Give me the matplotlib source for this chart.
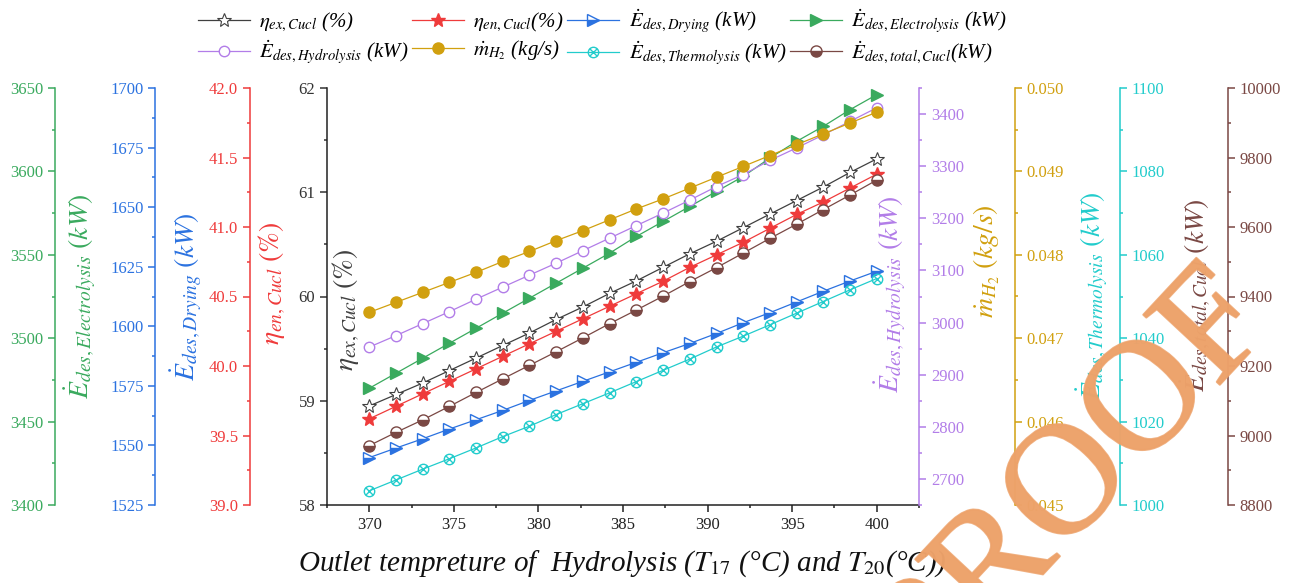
import numpy as np
import matplotlib
matplotlib.use('Agg')
import matplotlib.pyplot as plt
import matplotlib.patheffects as pe
from matplotlib.ticker import MultipleLocator, FormatStrFormatter
from matplotlib.path import Path

plt.rcParams['font.family'] = 'Liberation Serif'
plt.rcParams['mathtext.fontset'] = 'stix'

# outlet temperature of hydrolysis (T17 / T20), deg C
temp = [370.0, 371.58, 373.16, 374.74, 376.32, 377.89, 379.47, 381.05, 382.63, 384.21,
        385.79, 387.37, 388.95, 390.53, 392.11, 393.68, 395.26, 396.84, 398.42, 400.0]

eta_ex = [58.95, 59.06, 59.17, 59.29, 59.41, 59.53, 59.65, 59.78, 59.90, 60.03,
          60.15, 60.28, 60.41, 60.53, 60.66, 60.79, 60.92, 61.05, 61.19, 61.32]
eta_en = [39.62, 39.71, 39.80, 39.89, 39.98, 40.07, 40.16, 40.25, 40.34, 40.43,
          40.52, 40.61, 40.71, 40.80, 40.89, 40.99, 41.09, 41.18, 41.28, 41.38]
ed_drying = [1544.9, 1548.9, 1552.8, 1556.9, 1560.8, 1564.7, 1568.9, 1572.9, 1576.9, 1580.9,
             1584.9, 1588.9, 1592.8, 1597.0, 1601.5, 1605.7, 1610.2, 1614.7, 1619.0, 1623.1]
ed_electro = [3470, 3479, 3488, 3497, 3506, 3515, 3524, 3533, 3542, 3551,
              3561, 3570, 3579, 3588, 3597, 3608, 3618, 3627, 3637, 3646]
ed_hydro = [2953, 2975, 2998, 3021, 3045, 3068, 3091, 3114, 3138, 3162,
            3186, 3210, 3235, 3261, 3284, 3311, 3335, 3360, 3386, 3412]
m_h2 = [0.04731, 0.04743, 0.04755, 0.04767, 0.04779, 0.04792, 0.04804, 0.04817, 0.04829, 0.04842,
        0.04855, 0.04867, 0.04880, 0.04893, 0.04906, 0.04919, 0.04932, 0.04945, 0.04958, 0.04971]
ed_thermo = [1003.4, 1006.0, 1008.6, 1011.1, 1013.7, 1016.4, 1018.9, 1021.7, 1024.3, 1026.9,
             1029.6, 1032.3, 1035.0, 1037.9, 1040.5, 1043.2, 1046.0, 1048.8, 1051.6, 1054.3]
ed_total = [8971, 9009, 9045, 9084, 9124, 9163, 9202, 9241, 9281, 9322,
            9361, 9401, 9443, 9483, 9525, 9567, 9608, 9650, 9692, 9735]

c_ex = '#404040'
c_en = '#ef3b3b'
c_dry = '#2b72e0'
c_ele = '#3aaa5e'
c_hyd = '#b27de8'
c_m = '#d1a00f'
c_th = '#22cccc'
c_tot = '#7a4844'

W, H = 1290, 583
fig = plt.figure(figsize=(12.9, 5.83), dpi=100)
ax = fig.add_axes([327 / W, 1 - 505 / H, 592 / W, 417 / H])


def px(x, y):
    return x / W, 1 - y / H


def style_y(a, color, lo, hi, major, minor, fmt, side):
    a.set_ylim(lo, hi)
    a.yaxis.set_major_locator(MultipleLocator(major))
    a.yaxis.set_minor_locator(MultipleLocator(minor))
    a.yaxis.set_major_formatter(FormatStrFormatter(fmt))
    a.yaxis.set_ticks_position(side)
    a.tick_params(axis='y', which='both', colors=color, direction='out', labelsize=12)
    a.tick_params(axis='y', which='major', length=5, width=1.1)
    a.tick_params(axis='y', which='minor', length=2.5, width=1.1)


def extra_axis(side, pos, color, lo, hi, major, minor, fmt):
    tw = ax.twinx()
    for s in tw.spines.values():
        s.set_visible(False)
    sp = tw.spines[side]
    sp.set_visible(True)
    sp.set_position(('axes', pos))
    sp.set_color(color)
    sp.set_linewidth(1.1)
    style_y(tw, color, lo, hi, major, minor, fmt, side)
    return tw


# main axis (exergy efficiency)
for s in ['top', 'right']:
    ax.spines[s].set_visible(False)
for s in ['left', 'bottom']:
    ax.spines[s].set_linewidth(1.1)
    ax.spines[s].set_color('#222222')
style_y(ax, '#333333', 58, 62, 1, 0.5, '%d', 'left')
ax.set_xlim(367.5, 402.5)
ax.xaxis.set_major_locator(MultipleLocator(5))
ax.xaxis.set_minor_locator(MultipleLocator(2.5))
ax.tick_params(axis='x', which='both', direction='out', labelsize=12, colors='#222222', width=1.1)
ax.tick_params(axis='x', which='major', length=5)
ax.tick_params(axis='x', which='minor', length=2.5)

ax_ele = extra_axis('left', -0.4595, c_ele, 3400, 3650, 50, 25, '%d')
ax_dry = extra_axis('left', -0.2897, c_dry, 1525, 1700, 25, 12.5, '%d')
ax_en = extra_axis('left', -0.1301, c_en, 39.0, 42.0, 0.5, 0.25, '%.1f')
ax_hyd = extra_axis('right', 1.0, c_hyd, 2650, 3450, 100, 50, '%d')
ax_m = extra_axis('right', 1.1622, c_m, 0.045, 0.050, 0.001, 0.0005, '%.3f')
ax_th = extra_axis('right', 1.3395, c_th, 1000, 1100, 20, 10, '%d')
ax_tot = extra_axis('right', 1.522, c_tot, 8800, 10000, 200, 100, '%d')

otimes = Path.make_compound_path(
    Path.unit_circle(),
    Path([[-0.7, -0.7], [0.7, 0.7]], [Path.MOVETO, Path.LINETO]),
    Path([[-0.7, 0.7], [0.7, -0.7]], [Path.MOVETO, Path.LINETO]))

lw = 0.9
h_ex, = ax.plot(temp, eta_ex, color=c_ex, lw=lw, marker='*', ms=10, mfc='white', mec=c_ex, mew=0.8)
h_en, = ax_en.plot(temp, eta_en, color=c_en, lw=lw, marker='*', ms=10, mfc=c_en, mec=c_en)
h_dry, = ax_dry.plot(temp, ed_drying, color=c_dry, lw=lw, marker='>', ms=8, fillstyle='bottom',
                     mfc=c_dry, mfcalt='white', mec=c_dry, mew=1)
h_ele, = ax_ele.plot(temp, ed_electro, color=c_ele, lw=lw, marker='>', ms=8.5, mfc=c_ele, mec=c_ele)
h_hyd, = ax_hyd.plot(temp, ed_hydro, color=c_hyd, lw=lw, marker='o', ms=7.5, mfc='white', mec=c_hyd, mew=1)
h_m, = ax_m.plot(temp, m_h2, color=c_m, lw=lw, marker='o', ms=8, mfc=c_m, mec=c_m)
h_th, = ax_th.plot(temp, ed_thermo, color=c_th, lw=lw, marker=otimes, ms=7.5, mfc='none', mec=c_th, mew=1)
h_tot, = ax_tot.plot(temp, ed_total, color=c_tot, lw=lw, marker='o', ms=8, fillstyle='bottom',
                     mfc=c_tot, mfcalt='white', mec=c_tot, mew=1)

# axis titles, placed beside each spine
lab_kw = dict(rotation=90, ha='center', va='center', fontsize=20)
fig.text(*px(80, 296), r'$\dot{E}_{des,Electrolysis}\ (kW)$', color=c_ele, **lab_kw)
fig.text(*px(186, 297), r'$\dot{E}_{des,Drying}\ (kW)$', color=c_dry, **lab_kw)
fig.text(*px(272, 283), r'$\eta_{en,Cucl}\ (\%)$', color=c_en, **lab_kw)
fig.text(*px(346, 310), r'$\eta_{ex,Cucl}\ (\%)$', color=c_ex, **lab_kw)
fig.text(*px(890, 294), r'$\dot{E}_{des,Hydrolysis}\ (kW)$', color=c_hyd, **lab_kw)
fig.text(*px(987, 261), r'$\dot{m}_{H_2}\ (kg/s)$', color=c_m, **lab_kw)
fig.text(*px(1092, 296), r'$\dot{E}_{des,Thermolysis}\ (kW)$', color=c_th, **lab_kw)
fig.text(*px(1196, 295), r'$\dot{E}_{des,total,Cucl}\ (kW)$', color=c_tot, **lab_kw)

fig.text(*px(622, 564), r'Outlet tempreture of  Hydrolysis ($T_{17}$ (°C) and $T_{20}$(°C))',
         ha='center', va='center', fontsize=21, style='italic', color='#111111')

# legend filled column by column, so interleave rows
handles = [h_ex, h_hyd, h_en, h_m, h_dry, h_th, h_ele, h_tot]
labels = [r'$\eta_{ex,Cucl}$ (%)', r'$\dot{E}_{des,Hydrolysis}$ (kW)',
          r'$\eta_{en,Cucl}$(%)', r'$\dot{m}_{H_2}$ (kg/s)',
          r'$\dot{E}_{des,Drying}$ (kW)', r'$\dot{E}_{des,Thermolysis}$ (kW)',
          r'$\dot{E}_{des,Electrolysis}$ (kW)', r'$\dot{E}_{des,total,Cucl}$(kW)']
fig.legend(handles, labels, loc='center', bbox_to_anchor=px(602, 37), ncol=4, frameon=False,
           prop={'size': 15, 'style': 'italic'}, handlelength=2.5, handletextpad=0.45,
           columnspacing=0.15, labelspacing=0.2, borderpad=0.1)

# watermark of the proof copy
wm = '#eda26a'
fig.text(*px(1074, 485), 'PROOF', rotation=47, rotation_mode='anchor', ha='center', va='center',
         fontsize=114, color=wm, alpha=0.85, zorder=10,
         path_effects=[pe.withStroke(linewidth=1.5, foreground=wm, alpha=0.85)])

fig.savefig('out.png', dpi=100)
